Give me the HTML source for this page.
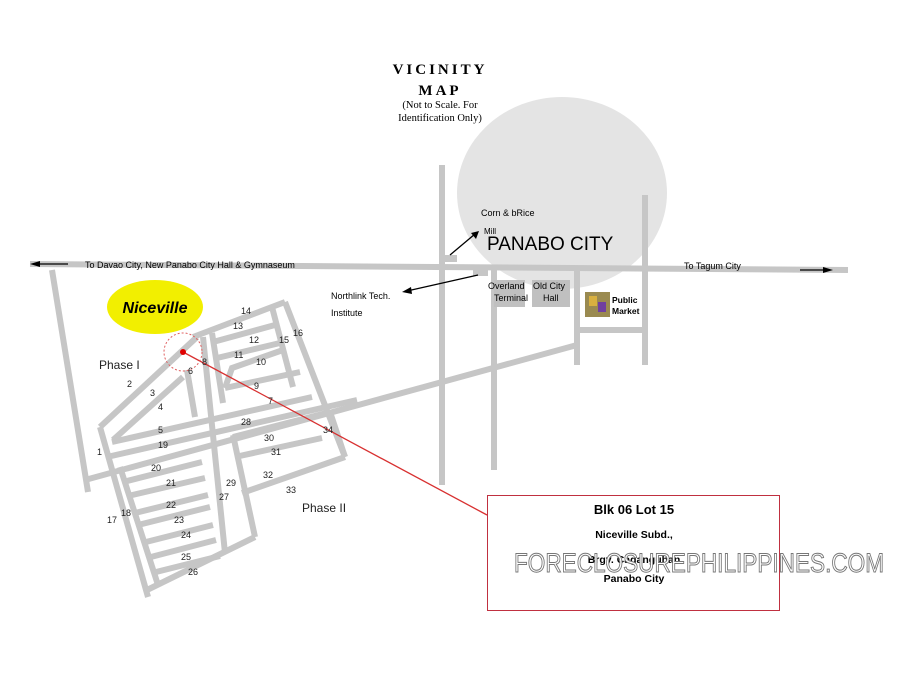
<!DOCTYPE html>
<html><head><meta charset="utf-8"><style>
html,body{margin:0;padding:0;background:#fff}
svg{display:block}
text{font-family:"Liberation Sans",sans-serif}
</style></head><body>
<svg width="900" height="675" viewBox="0 0 900 675" xmlns="http://www.w3.org/2000/svg">
<rect width="900" height="675" fill="#fff"/>
<ellipse cx="562" cy="193" rx="105" ry="96" fill="#e4e4e4"/>
<g stroke="#c6c6c6" stroke-width="6" fill="none" stroke-linecap="butt">
<line x1="30" y1="264" x2="848" y2="270"/>
<line x1="442" y1="165" x2="442" y2="485"/>
<line x1="494" y1="270" x2="494" y2="470"/>
<line x1="577" y1="270" x2="577" y2="365"/>
<line x1="645" y1="195" x2="645" y2="365"/>
<line x1="577" y1="330" x2="645" y2="330"/>
<line x1="85" y1="480" x2="577" y2="345"/>
<line x1="52" y1="270" x2="88" y2="492"/>
<!-- subdivision -->
<line x1="100" y1="427" x2="197" y2="337"/>
<line x1="113" y1="440" x2="183" y2="377"/>
<line x1="187" y1="370" x2="195" y2="417"/>
<line x1="203" y1="337" x2="225" y2="553"/>
<line x1="212" y1="333" x2="223" y2="403"/>
<line x1="193" y1="337" x2="285" y2="302"/>
<line x1="272" y1="307" x2="293" y2="387"/>
<line x1="285" y1="302" x2="345" y2="457"/>
<line x1="213" y1="342" x2="275" y2="325"/>
<line x1="217" y1="358" x2="280" y2="343"/>
<polyline points="225,388 232,368 283,350"/>
<line x1="225" y1="388" x2="300" y2="372"/>
<line x1="112" y1="442" x2="312" y2="397"/>
<line x1="107" y1="457" x2="357" y2="400"/>
<line x1="233" y1="437" x2="330" y2="412"/>
<line x1="235" y1="457" x2="322" y2="438"/>
<line x1="242" y1="493" x2="345" y2="457"/>
<line x1="233" y1="435" x2="255" y2="537"/>
<line x1="330" y1="412" x2="345" y2="457"/>
<line x1="100" y1="427" x2="148" y2="597"/>
<line x1="120" y1="467" x2="158" y2="585"/>
<line x1="123" y1="482" x2="202" y2="462"/>
<line x1="128" y1="496" x2="205" y2="478"/>
<line x1="135" y1="513" x2="208" y2="495"/>
<line x1="138" y1="525" x2="210" y2="507"/>
<line x1="142" y1="543" x2="213" y2="525"/>
<line x1="147" y1="558" x2="216" y2="540"/>
<line x1="152" y1="573" x2="220" y2="556"/>
<line x1="147" y1="590" x2="255" y2="537"/>
<rect x="443" y="255" width="14" height="7" fill="#c6c6c6" stroke="none"/>
<rect x="473" y="268" width="15" height="8" fill="#c6c6c6" stroke="none"/>
</g>
<rect x="494" y="280" width="31" height="27" fill="#c0c0c0"/>
<rect x="532" y="280" width="38" height="27" fill="#c0c0c0"/>
<rect x="585" y="292" width="25" height="25" fill="#9a8a50"/>
<rect x="589" y="296" width="8" height="10" fill="#d8b040"/>
<rect x="598" y="302" width="8" height="10" fill="#7040a0"/>
<!-- arrows -->
<g stroke="#000" stroke-width="1.3">
<line x1="36" y1="264" x2="68" y2="264"/>
<line x1="800" y1="270" x2="826" y2="270"/>
<line x1="450" y1="255" x2="475" y2="234"/>
<line x1="407" y1="291" x2="478" y2="275"/>
</g>
<polygon points="30,264 40,261 40,267" fill="#000"/>
<polygon points="833,270 823,267 823,273" fill="#000"/>
<polygon points="479,231 471,233 476,239" fill="#000"/>
<polygon points="402,292 411,287 412,294" fill="#000"/>
<!-- Niceville -->
<ellipse cx="155" cy="307" rx="48" ry="27" fill="#f2ef00"/>
<text x="155" y="313" font-size="16" font-weight="bold" font-style="italic" text-anchor="middle">Niceville</text>
<!-- red -->
<line x1="183" y1="352" x2="487" y2="515" stroke="#d83030" stroke-width="1.3"/>
<circle cx="183" cy="352" r="19" fill="none" stroke="#e06060" stroke-width="1" stroke-dasharray="2,2"/>
<circle cx="183" cy="352" r="3" fill="#e00000"/>
<!-- title -->
<g font-family="Liberation Serif,serif" text-anchor="middle">
<text x="440" y="74" font-size="15" font-weight="bold" letter-spacing="3" style="font-family:'Liberation Serif',serif">VICINITY</text>
<text x="440" y="95" font-size="15" font-weight="bold" letter-spacing="3" style="font-family:'Liberation Serif',serif">MAP</text>
<text x="440" y="108" font-size="10.5" style="font-family:'Liberation Serif',serif">(Not to Scale. For</text>
<text x="440" y="121" font-size="10.5" style="font-family:'Liberation Serif',serif">Identification Only)</text>
</g>
<g font-size="9">
<text x="481" y="216">Corn &amp; bRice</text>
<text x="484" y="234" font-size="8">Mill</text>
<text x="85" y="268">To Davao City, New Panabo City Hall &amp; Gymnaseum</text>
<text x="684" y="269">To Tagum City</text>
<text x="331" y="299">Northlink Tech.</text>
<text x="331" y="316">Institute</text>
<text x="488" y="289">Overland</text>
<text x="494" y="301">Terminal</text>
<text x="533" y="289">Old City</text>
<text x="543" y="301">Hall</text>
<text x="612" y="303" font-size="8.5" font-weight="bold">Public</text>
<text x="612" y="314" font-size="8.5" font-weight="bold">Market</text>
</g>
<text x="487" y="250" font-size="19">PANABO CITY</text>
<g font-size="12" fill="#222">
<text x="99" y="369">Phase I</text>
<text x="302" y="512">Phase II</text>
</g>
<g font-size="9" fill="#222">
<text x="241" y="314">14</text><text x="233" y="329">13</text><text x="249" y="343">12</text><text x="279" y="343">15</text><text x="293" y="336">16</text>
<text x="234" y="358">11</text><text x="256" y="365">10</text><text x="202" y="365">8</text><text x="188" y="374">6</text>
<text x="254" y="389">9</text><text x="268" y="404">7</text><text x="127" y="387">2</text><text x="150" y="396">3</text><text x="158" y="410">4</text>
<text x="158" y="433">5</text><text x="158" y="448">19</text><text x="97" y="455">1</text><text x="241" y="425">28</text>
<text x="264" y="441">30</text><text x="271" y="455">31</text><text x="263" y="478">32</text><text x="323" y="433">34</text><text x="286" y="493">33</text>
<text x="151" y="471">20</text><text x="166" y="486">21</text><text x="226" y="486">29</text><text x="219" y="500">27</text>
<text x="166" y="508">22</text><text x="174" y="523">23</text><text x="181" y="538">24</text><text x="121" y="516">18</text><text x="107" y="523">17</text>
<text x="181" y="560">25</text><text x="188" y="575">26</text>
</g>
<!-- callout -->
<rect x="487.5" y="495.5" width="292" height="115" fill="#fff" stroke="#c03040" stroke-width="1"/>
<g text-anchor="middle" font-weight="bold">
<text x="634" y="514" font-size="13">Blk 06  Lot 15</text>
<text x="634" y="538" font-size="10.5">Niceville Subd.,</text>
<text x="634" y="563" font-size="10.5">Brgy. Caganguhan</text>
<text x="634" y="582" font-size="10.5">Panabo City</text>
</g>
<text x="699" y="572" font-size="27" text-anchor="middle" fill="#fff" stroke="#777" stroke-width="1" textLength="370" lengthAdjust="spacingAndGlyphs">FORECLOSUREPHILIPPINES.COM</text>
</svg>
</body></html>
